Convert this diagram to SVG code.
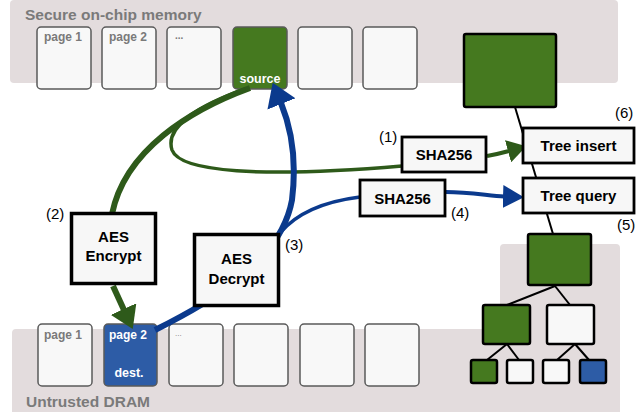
<svg xmlns="http://www.w3.org/2000/svg" width="644" height="412" viewBox="0 0 644 412">
<style>
.band{fill:#e3dcdd}
.page{fill:#f8f8f8;stroke:#5a5a5a;stroke-width:1.5}
.plabel{font-family:"Liberation Sans",Arial,sans-serif;font-weight:bold;font-size:12px;fill:#7a7a7a}
.wlabel{font-family:"Liberation Sans",Arial,sans-serif;font-weight:bold;font-size:12.5px;fill:#ffffff;text-anchor:middle}
.title{font-family:"Liberation Sans",Arial,sans-serif;font-weight:bold;font-size:15.5px;fill:#7a7a7a}
.box{fill:#f7f7f7;stroke:#000;stroke-width:3.5}
.sbox{fill:#f7f7f7;stroke:#000;stroke-width:2.8}
.btxt{font-family:"Liberation Sans",Arial,sans-serif;font-weight:bold;font-size:15px;fill:#000;text-anchor:middle}
.num{font-family:"Liberation Sans",Arial,sans-serif;font-size:15px;fill:#000}
.tn{stroke:#000;stroke-width:2.5}
.green{fill:#45791f}
.white{fill:#f8f8f8}
.blue{fill:#2d5ca6}
.edge{stroke:#000;stroke-width:2;fill:none}
.g{stroke:#2e5a1a;fill:none}
.b{stroke:#0b3a8d;fill:none}
</style>
<defs>
<marker id="agBig" markerUnits="userSpaceOnUse" markerWidth="22" markerHeight="28" refX="1" refY="14" orient="auto" viewBox="0 0 22 28"><path d="M0,0 L22,14 L0,28 Z" fill="#2e5a1a"/></marker>
<marker id="abBig" markerUnits="userSpaceOnUse" markerWidth="23" markerHeight="30" refX="1" refY="15" orient="auto" viewBox="0 0 23 30"><path d="M0,0 L23,15 L0,30 Z" fill="#0b3a8d"/></marker>
<marker id="agSm" markerUnits="userSpaceOnUse" markerWidth="19" markerHeight="23" refX="1" refY="11.5" orient="auto" viewBox="0 0 19 23"><path d="M0,0 L19,11.5 L0,23 Z" fill="#2e5a1a"/></marker>
<marker id="abSm" markerUnits="userSpaceOnUse" markerWidth="21" markerHeight="23" refX="1" refY="11.5" orient="auto" viewBox="0 0 21 23"><path d="M0,0 L21,11.5 L0,23 Z" fill="#0b3a8d"/></marker>
</defs>

<g id="secure-memory">
<rect class="band" x="10" y="0" width="608" height="83" rx="4"/>
<text class="title" x="25" y="19.5">Secure on-chip memory</text>
</g>
<g id="dram">
<path class="band" d="M16 329 H500 V248 Q500 244 504 244 H616 Q620 244 620 248 V412 H12 V333 Q12 329 16 329 Z"/>
<text class="title" x="26" y="406.5">Untrusted DRAM</text>
</g>

<g id="top-pages">
<g id="tp1"><rect class="page" x="37" y="27" width="54" height="62" rx="4"/><text class="plabel" x="44" y="41">page 1</text></g>
<g id="tp2"><rect class="page" x="102" y="27" width="54" height="62" rx="4"/><text class="plabel" x="109" y="41">page 2</text></g>
<g id="tp3"><rect class="page" x="167" y="27" width="54" height="62" rx="4"/><text class="plabel" x="175" y="39" style="font-size:10px">...</text></g>
<g id="source"><rect class="page green" x="233" y="27" width="54" height="62" rx="4"/><text class="wlabel" x="260" y="82.5">source</text></g>
<g id="tp5"><rect class="page" x="298" y="27" width="54" height="62" rx="4"/></g>
<g id="tp6"><rect class="page" x="363" y="27" width="54" height="62" rx="4"/></g>
</g>

<g id="bottom-pages">
<g id="bp1"><rect class="page" x="38" y="324" width="54" height="62" rx="4"/><text class="plabel" x="44" y="338.5">page 1</text></g>
<g id="dest"><rect class="page blue" x="104" y="324" width="53" height="62" rx="4"/><text class="plabel" x="109" y="338.5" style="fill:#ffffff">page 2</text><text class="wlabel" x="129" y="376.5">dest.</text></g>
<g id="bp3"><rect class="page" x="169" y="324" width="54" height="62" rx="4"/><text class="plabel" x="175" y="336" style="font-size:8px;font-weight:normal">...</text></g>
<g id="bp4"><rect class="page" x="234" y="324" width="54" height="62" rx="4"/></g>
<g id="bp5"><rect class="page" x="300" y="324" width="54" height="62" rx="4"/></g>
<g id="bp6"><rect class="page" x="365" y="324" width="54" height="62" rx="4"/></g>
</g>

<g id="tree-edges">
<line class="edge" x1="515" y1="107" x2="553" y2="234"/>
<line class="edge" x1="555" y1="286" x2="507" y2="305"/>
<line class="edge" x1="555" y1="286" x2="570" y2="305"/>
<line class="edge" x1="507" y1="344" x2="487" y2="360"/>
<line class="edge" x1="507" y1="344" x2="519" y2="360"/>
<line class="edge" x1="575" y1="344" x2="557" y2="360"/>
<line class="edge" x1="575" y1="344" x2="589" y2="360"/>
</g>

<g id="connectors">
<path class="g" stroke-width="6" d="M250 88 C190 110 125 150 112 214"/>
<path class="g" stroke-width="6" d="M113 286 L124 310" marker-end="url(#agBig)"/>
<path class="g" stroke-width="3.5" d="M245 89 C195 107 165 128 172 150 C180 172 260 178 402 166"/>
<path class="g" stroke-width="4" d="M487 156 Q498 154 509 151" marker-end="url(#agSm)"/>
<path class="b" stroke-width="6" d="M155 330 C205 305 280 265 292 200 C297 160 292 130 281 103" marker-end="url(#abBig)"/>
<path class="b" stroke-width="3.5" d="M280 233 C295 215 320 202 360 197"/>
<path class="b" stroke-width="4" d="M446 192 C470 192 490 196 504 196.5" marker-end="url(#abSm)"/>
</g>

<g id="aes-encrypt"><rect class="box" x="71.5" y="213.5" width="84" height="70"/><text class="btxt" x="113.5" y="241.5">AES</text><text class="btxt" x="113.5" y="261">Encrypt</text><text class="num" x="46" y="219">(2)</text></g>
<g id="aes-decrypt"><rect class="box" x="194.5" y="234.5" width="84" height="71"/><text class="btxt" x="236.5" y="263.5">AES</text><text class="btxt" x="236.5" y="283.5">Decrypt</text><text class="num" x="285" y="249.5">(3)</text></g>
<g id="sha-1"><rect class="sbox" x="402" y="137" width="84" height="35"/><text class="btxt" x="444" y="160">SHA256</text><text class="num" x="379" y="142">(1)</text></g>
<g id="sha-4"><rect class="sbox" x="360" y="180" width="85" height="36"/><text class="btxt" x="402.5" y="203.5">SHA256</text><text class="num" x="451" y="217.5">(4)</text></g>
<g id="tree-insert"><rect class="sbox" x="523" y="128" width="111" height="35"/><text class="btxt" x="578.5" y="150.5">Tree insert</text><text class="num" x="615" y="118">(6)</text></g>
<g id="tree-query"><rect class="sbox" x="523" y="178" width="111" height="35"/><text class="btxt" x="578.5" y="201">Tree query</text><text class="num" x="617" y="230">(5)</text></g>

<g id="tree-root"><rect class="tn green" x="464" y="34" width="92" height="73" rx="2"/></g>
<g id="tree-mid"><rect class="tn green" x="528" y="234" width="63" height="51" rx="2"/></g>
<g id="tree-l"><rect class="tn green" x="483" y="305" width="47" height="39" rx="2"/></g>
<g id="tree-r"><rect class="tn white" x="547" y="305" width="47" height="39" rx="2"/></g>
<g id="leaf-1"><rect class="tn green" x="471" y="360" width="26" height="23" rx="2"/></g>
<g id="leaf-2"><rect class="tn white" x="507" y="360" width="26" height="23" rx="2"/></g>
<g id="leaf-3"><rect class="tn white" x="543" y="360" width="26" height="23" rx="2"/></g>
<g id="leaf-4"><rect class="tn blue" x="580" y="360" width="26" height="23" rx="2"/></g>
</svg>
